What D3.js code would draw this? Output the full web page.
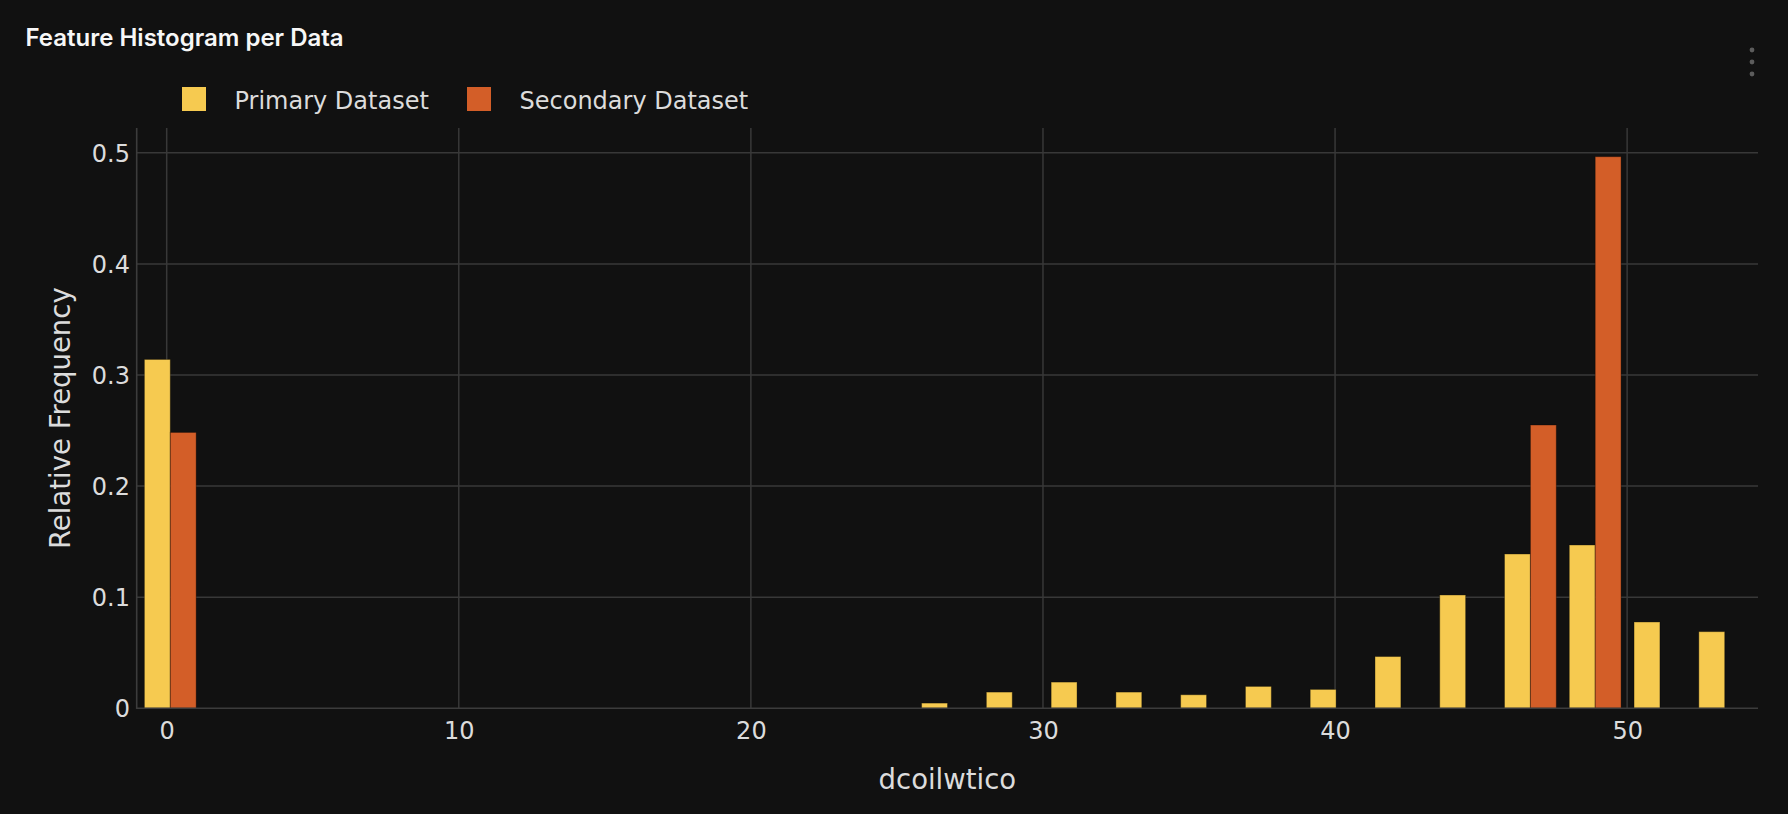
<!DOCTYPE html>
<html>
<head>
<meta charset="utf-8">
<script src="https://cdn.jsdelivr.net/npm/d3@7"></script>
<style>
  html, body { margin: 0; padding: 0; background: #111111; }
  svg { display: block; }
</style>
</head>
<body>
<svg id="chart" width="1788" height="814"></svg>
<script>
// ---- data ----
const binWidth = 2.2174;
const binStarts = [-0.986, 25.623, 27.840, 30.058, 32.275, 34.492, 36.710, 38.927, 41.145, 43.362, 45.579, 47.797, 50.014, 52.232];
const primaryValues   = [0.314, 0.0047, 0.0146, 0.0236, 0.0146, 0.0122, 0.0197, 0.0170, 0.0466, 0.102, 0.1389, 0.147, 0.0777, 0.0690];
const secondaryValues = [0.2483, 0, 0, 0, 0, 0, 0, 0, 0, 0, 0.255, 0.4965, 0, 0];
const seriesNames = ["Primary Dataset", "Secondary Dataset"];
const seriesColors = ["#F6CA50", "#D35E28"];
const xTicks = [0, 10, 20, 30, 40, 50];
const yTicks = [0, 0.1, 0.2, 0.3, 0.4, 0.5];
const titleText = "Feature Histogram per Data";
const xTitle = "dcoilwtico";
const yTitle = "Relative Frequency";

// ---- layout ----
const svg = d3.select("#chart");
const plot = { left: 136.7, right: 1758, top: 128, bottom: 708.3 };
const x = d3.scaleLinear().domain([-1.027, 54.48]).range([plot.left, plot.right]);
const y = d3.scaleLinear().domain([0, 0.5223]).range([plot.bottom, plot.top]);
const gridColor = "#383838";
const textColor = "#dcdcdc";
const font = "'DejaVu Sans', Verdana, sans-serif";

svg.append("rect").attr("width", 1788).attr("height", 814).attr("fill", "#111111");

// title
svg.append("text").attr("x", 25.5).attr("y", 46)
  .attr("font-family", "Inter, 'Noto Sans', sans-serif").attr("font-weight", 600)
  .attr("font-size", 24).attr("fill", "#f7f7f7").text(titleText);

// menu dots
[50, 62, 74].forEach(cy => svg.append("circle").attr("cx", 1752).attr("cy", cy).attr("r", 2.4).attr("fill", "#5c5c5c"));

// legend
const legendX = [182, 467];
seriesNames.forEach((name, i) => {
  svg.append("rect").attr("x", legendX[i]).attr("y", 87).attr("width", 24).attr("height", 24)
    .attr("fill", seriesColors[i]);
  svg.append("text").attr("x", legendX[i] + 52.5).attr("y", 108.5)
    .attr("font-family", font).attr("font-size", 24).attr("fill", textColor).text(name);
});

// grid
const g = svg.append("g");
g.selectAll(".vgrid").data(xTicks).enter().append("line")
  .attr("x1", d => x(d)).attr("x2", d => x(d)).attr("y1", plot.top).attr("y2", plot.bottom)
  .attr("stroke", gridColor).attr("stroke-width", 1.5);
g.selectAll(".hgrid").data(yTicks.filter(d => d > 0)).enter().append("line")
  .attr("x1", plot.left).attr("x2", plot.right).attr("y1", d => y(d)).attr("y2", d => y(d))
  .attr("stroke", gridColor).attr("stroke-width", 1.5);

// bars
const bargap = 0.2;
const series = [primaryValues, secondaryValues];
const barW = (x(binWidth) - x(0)) * (1 - bargap) / 2;
series.forEach((vals, si) => {
  svg.append("g").selectAll("rect").data(binStarts.map((s, i) => ({ s, v: vals[i] })).filter(d => d.v > 0))
    .enter().append("rect")
    .attr("x", d => x(d.s + binWidth * bargap / 2) + si * barW)
    .attr("width", barW)
    .attr("y", d => y(d.v))
    .attr("height", d => y(0) - y(d.v))
    .attr("fill", seriesColors[si])
    .attr("stroke", "rgba(0,0,0,0.35)")
    .attr("stroke-width", 1);
});

// axis lines
svg.append("line").attr("x1", plot.left).attr("x2", plot.left).attr("y1", plot.top).attr("y2", plot.bottom + 0.8)
  .attr("stroke", "#3c3c3c").attr("stroke-width", 1.6);
svg.append("line").attr("x1", plot.left).attr("x2", plot.right).attr("y1", y(0)).attr("y2", y(0))
  .attr("stroke", "#3c3c3c").attr("stroke-width", 1.6);

// x axis tick labels via d3 axis
const xAxis = d3.axisBottom(x).tickValues(xTicks).tickSize(0).tickPadding(0).tickFormat(d3.format("d"));
const xg = svg.append("g").call(xAxis);
xg.select(".domain").remove();
xg.selectAll("text").attr("y", 739.3).attr("dy", null)
  .attr("font-family", font).attr("font-size", 24).attr("fill", textColor);

const yAxis = d3.axisLeft(y).tickValues(yTicks).tickSize(0).tickPadding(0).tickFormat(d => d === 0 ? "0" : d3.format(".1f")(d));
const yg = svg.append("g").attr("transform", `translate(130, 0)`).call(yAxis);
yg.select(".domain").remove();
yg.selectAll("text").attr("x", 0).attr("dy", "0.36em")
  .attr("font-family", font).attr("font-size", 24).attr("fill", textColor);

// axis titles
svg.append("text").attr("x", (plot.left + plot.right) / 2).attr("y", 788.7)
  .attr("text-anchor", "middle").attr("font-family", font).attr("font-size", 27.5)
  .attr("fill", textColor).text(xTitle);
svg.append("text").attr("transform", `translate(69.5, ${(plot.top + plot.bottom) / 2}) rotate(-90)`)
  .attr("text-anchor", "middle").attr("font-family", font).attr("font-size", 27.5)
  .attr("fill", textColor).text(yTitle);
</script>
</body>
</html>
